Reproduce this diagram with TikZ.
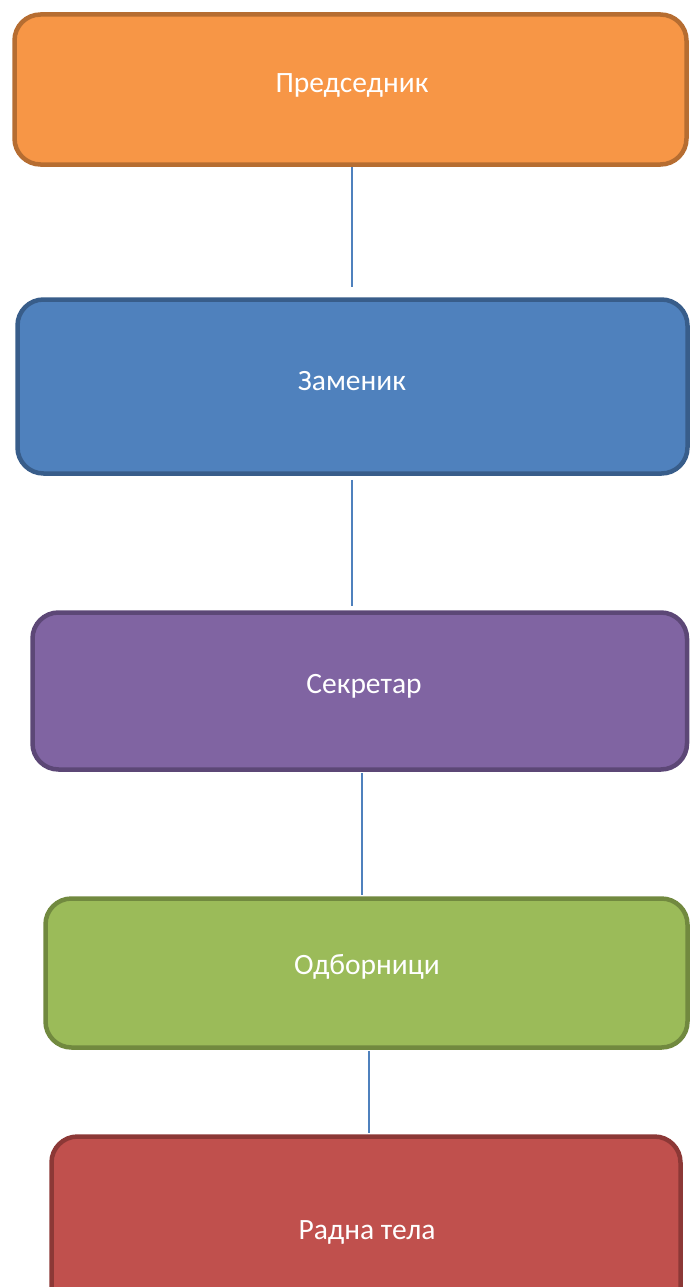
\documentclass[tikz,border=0pt]{standalone}
\usepackage{fontspec}
\setmainfont{Carlito}
\definecolor{orf}{HTML}{F79646}\definecolor{ord}{HTML}{B66D31}
\definecolor{blf}{HTML}{4F81BD}\definecolor{bld}{HTML}{385D8A}
\definecolor{puf}{HTML}{8064A2}\definecolor{pud}{HTML}{5C4776}
\definecolor{grf}{HTML}{9BBB59}\definecolor{grd}{HTML}{71893F}
\definecolor{rdf}{HTML}{C0504D}\definecolor{rdd}{HTML}{8C3836}
\definecolor{conn}{HTML}{4F81BD}
\tikzset{
  boxst/.style={draw, line width=4.5pt, rounded corners=26pt, inner sep=0pt},
  lbl/.style={text=white, font=\fontsize{29.5}{33}\selectfont, inner sep=0pt},
  connst/.style={draw=conn, line width=1.8pt}
}
\begin{document}
\begin{tikzpicture}[x=1pt,y=1pt]
\useasboundingbox (0,0) rectangle (690,-1287);
\node[boxst, fill=orf, draw=ord, minimum width=672pt, minimum height=150pt] (a) at (350.5,-89.5) {};
\node[boxst, fill=blf, draw=bld, minimum width=670pt, minimum height=174pt] (b) at (352.5,-386.5) {};
\node[boxst, fill=puf, draw=pud, minimum width=654.5pt, minimum height=157pt] (c) at (359.75,-691) {};
\node[boxst, fill=grf, draw=grd, minimum width=642pt, minimum height=149pt] (d) at (366.5,-973) {};
\node[boxst, fill=rdf, draw=rdd, minimum width=629pt, minimum height=190pt] (e) at (366,-1231.5) {};
\node[lbl] (ta) at (352,-85) {Председник};
\node[lbl] (tb) at (352,-381) {Заменик};
\node[lbl] (tc) at (364,-686) {Секретар};
\node[lbl] (td) at (367,-967) {Одборници};
\node[lbl] (te) at (367,-1232) {Радна тела};
\coordinate (l1) at (352,0);
\coordinate (l2) at (352,0);
\coordinate (l3) at (362,0);
\coordinate (l4) at (369,0);
\draw[connst] (a.south -| l1) -- ([yshift=10pt]b.north -| l1);
\draw[connst] ([yshift=-4pt]b.south -| l2) -- ([yshift=4pt]c.north -| l2);
\draw[connst] ([yshift=-1pt]c.south -| l3) -- ([yshift=1pt]d.north -| l3);
\draw[connst] ([yshift=-1pt]d.south -| l4) -- ([yshift=1pt]e.north -| l4);
\end{tikzpicture}
\end{document}
